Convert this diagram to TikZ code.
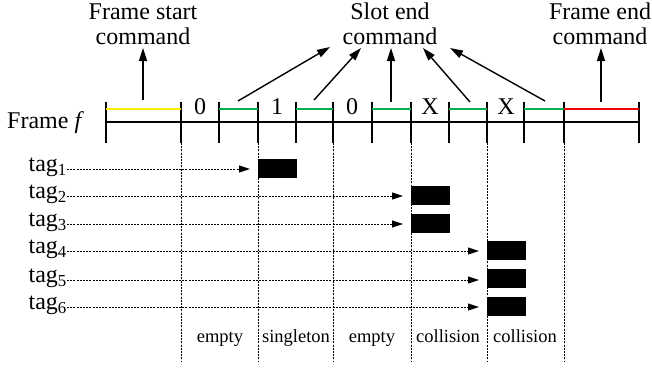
\documentclass[tikz,border=0pt]{standalone}
\usepackage{fontspec}
\setmainfont{Liberation Serif}
\usetikzlibrary{arrows.meta}
\definecolor{fyellow}{RGB}{255,235,0}
\definecolor{fgreen}{RGB}{0,176,80}
\definecolor{fred}{RGB}{240,0,0}
\begin{document}
\begin{tikzpicture}[x=1pt,y=-1pt,
  big/.style={font=\fontsize{24}{25}\selectfont, inner sep=0pt},
  small/.style={font=\fontsize{18.5}{20}\selectfont, inner sep=0pt},
  axis/.style={line width=1.3pt},
  tickline/.style={line width=1.3pt},
  seg/.style={line width=1.5pt},
  cmdarrow/.style={line width=1.4pt, -{Triangle[length=13pt,width=8pt]}},
  tagarrow/.style={line width=1pt, dash pattern=on 2pt off 1.2pt, -{Triangle[length=11pt,width=7pt]}},
  guide/.style={line width=1pt, dash pattern=on 2pt off 1.2pt},
  tagbox/.style={fill=black, draw=none, minimum width=39pt, minimum height=19pt, inner sep=0pt, anchor=west}
]
\useasboundingbox (0,0) rectangle (652,370);

% ticks
\foreach \x [count=\i] in {106,181,219,258,296,333,372,411,449,487,524,564,639} {
  \coordinate (t\i) at (\x,122);
  \draw[tickline] (\x,102) -- (\x,143);
}
\draw[axis] (t1) -- (t13);

% coloured segments
\draw[seg, fyellow] (106,109) -- (181,109);
\draw[seg, fgreen] (219,109) -- (258,109);
\draw[seg, fgreen] (296,109) -- (333,109);
\draw[seg, fgreen] (372,109) -- (411,109);
\draw[seg, fgreen] (449,109) -- (487,109);
\draw[seg, fgreen] (524,109) -- (564,109);
\draw[seg, fred] (564,109) -- (639,109);

% slot labels
\node[big, anchor=base] (s1) at (200,114) {0};
\node[big, anchor=base] (s2) at (277,114) {1};
\node[big, anchor=base] (s3) at (352,114) {0};
\node[big, anchor=base] (s4) at (430,114) {X};
\node[big, anchor=base] (s5) at (506,114) {X};

\node[big, anchor=base west] (frame) at (7,128) {Frame \textit{f}};

% top labels (base anchor = baseline of last line)
\node[big, anchor=base, align=center] (fs) at (143,44) {Frame start\\command};
\node[big, anchor=base, align=center] (se) at (390,44) {Slot end\\command};
\node[big, anchor=base, align=center] (fe) at (600,44) {Frame end\\command};

% command arrows
\coordinate (a0) at (143,100); \coordinate (b0) at (143,48);
\coordinate (a1) at (238,101); \coordinate (b1) at (330,47);
\coordinate (a2) at (314,100); \coordinate (b2) at (361,48);
\coordinate (a3) at (391,102); \coordinate (b3) at (391,48);
\coordinate (a4) at (470,102); \coordinate (b4) at (423,48);
\coordinate (a5) at (545,101); \coordinate (b5) at (450,48);
\coordinate (a6) at (601,102); \coordinate (b6) at (601,48);
\foreach \i in {0,...,6} { \draw[cmdarrow] (a\i) -- (b\i); }

% guide lines
\foreach \x in {181,258,333,411,487,564} {
  \draw[guide] (\x,143) -- (\x,362);
}

% tags and replies
\node[tagbox] (r1) at (258,168) {};
\node[tagbox] (r2) at (411,195) {};
\node[tagbox] (r3) at (411,223) {};
\node[tagbox] (r4) at (487,250) {};
\node[tagbox] (r5) at (487,278) {};
\node[tagbox] (r6) at (487,306) {};

\foreach \i/\y in {1/169,2/196,3/224,4/251,5/280,6/307} {
  \node[big, anchor=mid east] (tag\i) at (67,\y) {tag\textsubscript{\i}};
  \draw[tagarrow, shorten >=8pt] (tag\i.mid east) -- (tag\i.mid east -| r\i.west);
}

% slot types
\node[small, anchor=base] (c1) at (220,342) {empty};
\node[small, anchor=base] (c2) at (296,342) {singleton};
\node[small, anchor=base] (c3) at (372,342) {empty};
\node[small, anchor=base] (c4) at (448,342) {collision};
\node[small, anchor=base] (c5) at (525,342) {collision};
\end{tikzpicture}
\end{document}
